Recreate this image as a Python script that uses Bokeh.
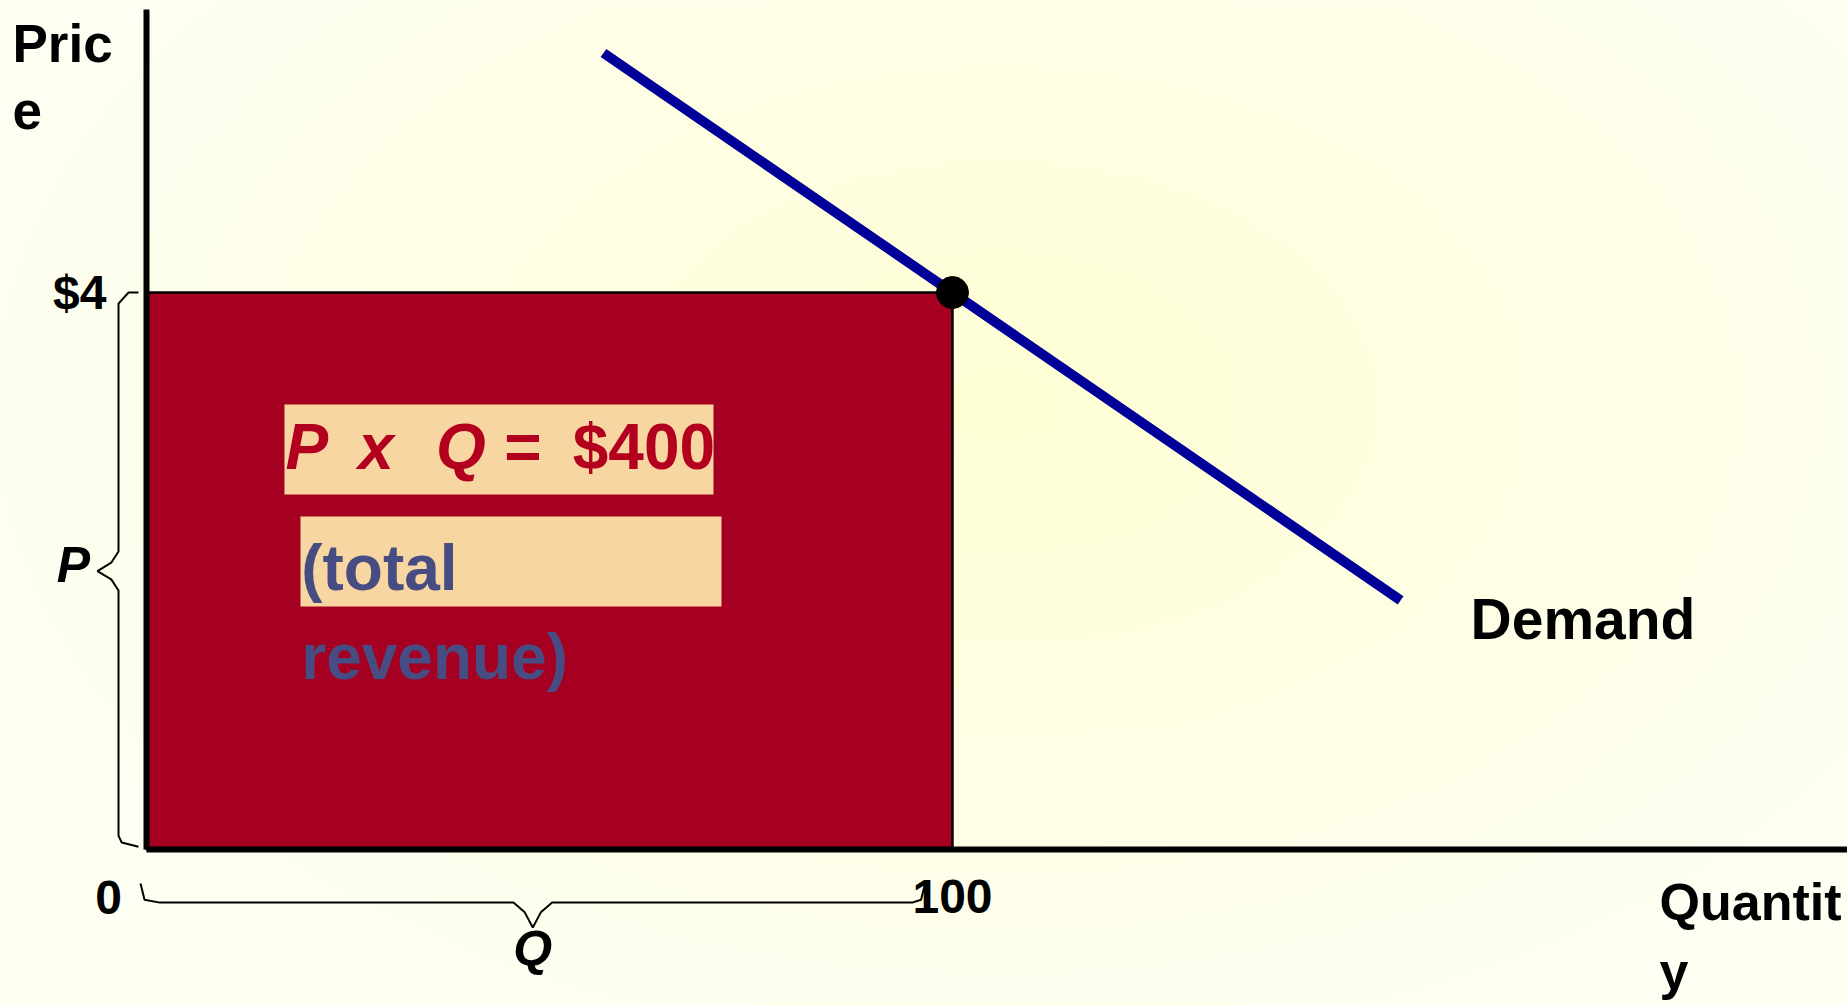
import numpy as np
from bokeh.plotting import figure
from bokeh.models import Range1d, FixedTicker
from bokeh.core.properties import value
from bokeh.embed import file_html
from bokeh.resources import INLINE

# ---------------- data ----------------
price = 4
quantity = 100
demand_q = [56.7, 155.6]
demand_p = [5.72, 1.79]
x_ticks = [100]
x_tick_labels = ["100"]
y_ticks = [4]
y_tick_labels = ["$4"]
origin_label = "0"
eq_parts = ["P", "x", "Q", "=", "$400"]
note_lines = ["(total", "revenue)"]
demand_label = "Demand"
y_title = ["Pric", "e"]
x_title = ["Quantit", "y"]

# ---------------- styling ----------------
FONT = "Liberation Sans"
X0, X1 = -18.11, 211.04
Y0, Y1 = -1.127, 6.097
RED = "#A50021"
PEACH = "#F8D6A1"
EQ_RED = "#B3001E"
SLATE = "#474C82"
BLUE = "#000099"

p = figure(width=1847, height=1006, x_range=Range1d(X0, X1), y_range=Range1d(Y0, Y1),
           min_border=0, output_backend="svg", toolbar_location=None)
p.outline_line_color = None
p.grid.visible = False
p.background_fill_color = "#FFFFE6"
p.border_fill_color = "#FFFFE6"

# soft radial background
nx, ny = 240, 130
xs = np.linspace(X0, X1, nx)
ys = np.linspace(Y0, Y1, ny)
XX, YY = np.meshgrid(xs, ys)
d = np.sqrt(((XX - 106) / 135) ** 2 + ((YY - 3.2) / 5.0) ** 2)
d = np.clip(d, 0, 1) ** 0.9
c_in = np.array([255, 255, 212])
c_out = np.array([254, 254, 243])
img = np.empty((ny, nx), dtype=np.uint32)
view = img.view(dtype=np.uint8).reshape((ny, nx, 4))
for k in range(3):
    view[:, :, k] = (c_in[k] + (c_out[k] - c_in[k]) * d).astype(np.uint8)
view[:, :, 3] = 255
p.image_rgba(image=[img], x=X0, y=Y0, dw=X1 - X0, dh=Y1 - Y0)

# total revenue rectangle
p.quad(left=[0], right=[quantity], bottom=[0], top=[price],
       fill_color=RED, line_color="black", line_width=2.5)

# peach boxes
p.quad(left=[17.12, 19.11], right=[70.35, 71.34], bottom=[2.549, 1.745], top=[3.196, 2.391],
       fill_color=PEACH, line_color=None)

# equation text
eq_x = [19.91, 28.47, 39.02, 46.71, 61.72]
eq_style = ["bold italic", "bold italic", "bold italic", "bold", "bold"]
for t, xx, st in zip(eq_parts, eq_x, eq_style):
    p.text(x=[xx], y=[2.89], text=[t], text_font=value(FONT), text_font_size=value("64px"),
           text_font_style=st, text_color=EQ_RED, text_baseline="middle", text_align="center")

p.text(x=[19.2, 19.2], y=[2.02, 1.38], text=note_lines, text_font=value(FONT),
       text_font_size=value("64px"), text_font_style="bold", text_color=SLATE,
       text_baseline="middle", text_align="left")

# demand curve
p.line(x=demand_q, y=demand_p, line_color=BLUE, line_width=10)
p.scatter(x=[quantity], y=[price], size=32, marker="circle", fill_color="black", line_color="black")

p.text(x=[164.27], y=[1.655], text=[demand_label], text_font=value(FONT),
       text_font_size=value("57px"), text_font_style="bold", text_color="black",
       text_baseline="middle", text_align="left")

# axis titles
p.text(x=[-16.63, -16.63], y=[5.79, 5.31], text=y_title, text_font=value(FONT),
       text_font_size=value("53px"), text_font_style="bold", text_color="black",
       text_baseline="middle", text_align="left")
p.text(x=[187.72, 187.72], y=[-0.38, -0.875], text=x_title, text_font=value(FONT),
       text_font_size=value("52px"), text_font_style="bold", text_color="black",
       text_baseline="middle", text_align="left")

# origin label
p.text(x=[-4.71], y=[-0.345], text=[origin_label], text_font=value(FONT),
       text_font_size=value("48px"), text_font_style="bold", text_color="black",
       text_baseline="middle", text_align="center")

# braces
tip, corner, line_x, cusp_x = -0.99, -2.23, -3.47, -6.08
mid = price / 2
bx = [tip, corner, line_x, line_x, line_x - 0.9, cusp_x, line_x - 0.9, line_x, line_x, line_x + 0.4, tip]
by = [price, price, price - 0.08, mid + 0.14, mid + 0.06, mid, mid - 0.06, mid - 0.14, 0.1, 0.05, 0.02]
p.line(x=bx, y=by, line_color="black", line_width=2)

ly, ty, cy = -0.381, -0.244, -0.56
ql, qr = -0.74, quantity - 3.4
qm = (ql + qr) / 2
qx = [ql, ql + 0.5, ql + 2.4, qm - 2.4, qm - 1.0, qm, qm + 1.0, qm + 2.4, qr - 1.6, qr - 0.5, qr]
qy = [ty, ly + 0.02, ly, ly, ly - 0.07, cy, ly - 0.07, ly, ly, ly + 0.02, ty]
p.line(x=qx, y=qy, line_color="black", line_width=2)

p.text(x=[-9.06], y=[2.04], text=["P"], text_font=value(FONT), text_font_size=value("50px"),
       text_font_style="bold italic", text_color="black", text_baseline="middle", text_align="center")
p.text(x=[qm], y=[-0.711], text=["Q"], text_font=value(FONT), text_font_size=value("50px"),
       text_font_style="bold italic", text_color="black", text_baseline="middle", text_align="center")

# axes at fixed locations
for ax in p.xaxis:
    ax.fixed_location = 0
    ax.bounds = (0, X1)
    ax.ticker = FixedTicker(ticks=x_ticks)
    ax.major_label_overrides = {t: l for t, l in zip(x_ticks, x_tick_labels)}
    ax.major_label_standoff = 30
for ax in p.yaxis:
    ax.fixed_location = 0
    ax.bounds = (0, 6.03)
    ax.ticker = FixedTicker(ticks=y_ticks)
    ax.major_label_overrides = {t: l for t, l in zip(y_ticks, y_tick_labels)}
    ax.major_label_standoff = 40
for ax in p.axis:
    ax.axis_line_width = 6
    ax.axis_line_color = "black"
    ax.major_tick_line_color = None
    ax.minor_tick_line_color = None
    ax.major_tick_out = 0
    ax.major_tick_in = 0
    ax.major_label_text_font = FONT
    ax.major_label_text_font_size = "48px"
    ax.major_label_text_font_style = "bold"
    ax.major_label_text_color = "black"

open("out.html", "w").write(file_html(p, INLINE))
